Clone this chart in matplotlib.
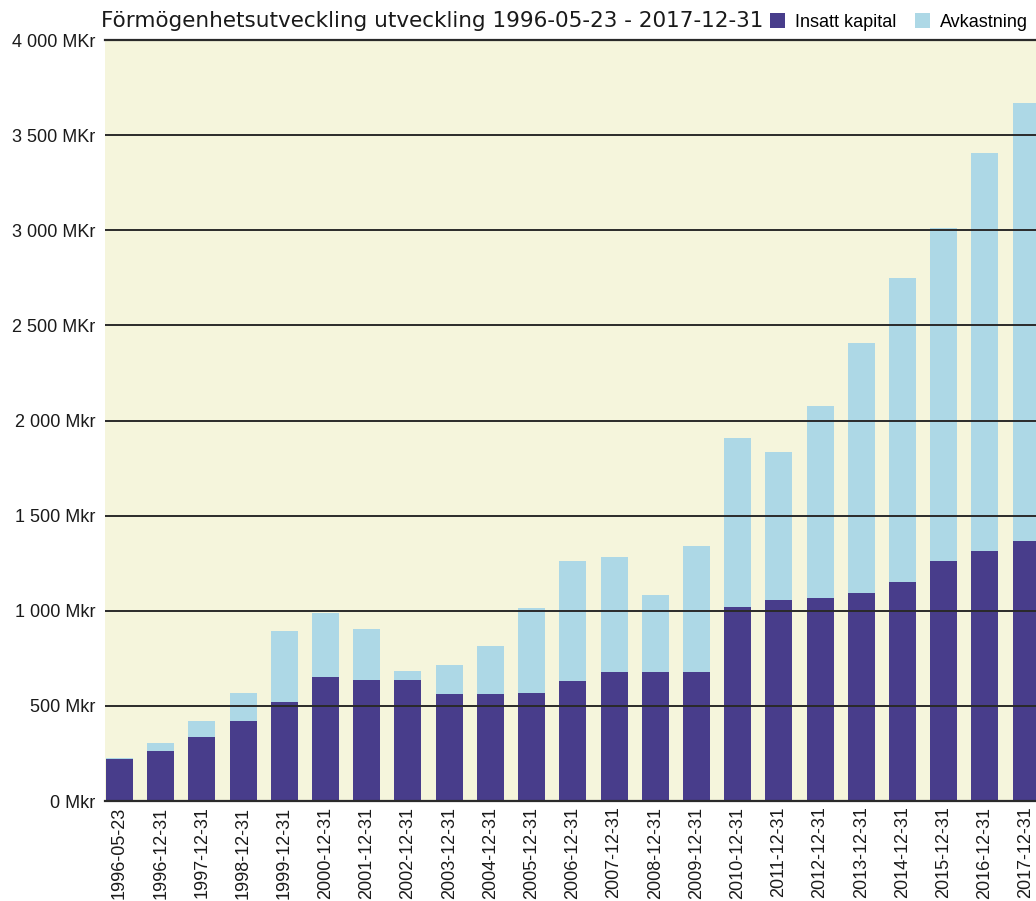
import matplotlib
matplotlib.use("Agg")
import matplotlib.pyplot as plt
from matplotlib.patches import Patch

dates = ["1996-05-23", "1996-12-31", "1997-12-31", "1998-12-31", "1999-12-31",
         "2000-12-31", "2001-12-31", "2002-12-31", "2003-12-31", "2004-12-31",
         "2005-12-31", "2006-12-31", "2007-12-31", "2008-12-31", "2009-12-31",
         "2010-12-31", "2011-12-31", "2012-12-31", "2013-12-31", "2014-12-31",
         "2015-12-31", "2016-12-31", "2017-12-31"]
insatt = [220, 263, 336, 420, 520, 652, 636, 636, 562, 562, 568, 631, 678, 678, 678,
          1020, 1057, 1067, 1093, 1151, 1261, 1314, 1367]
totalt = [226, 305, 420, 568, 894, 988, 904, 683, 715, 815, 1014, 1262, 1283, 1083, 1340,
          1908, 1834, 2076, 2407, 2749, 3012, 3406, 3669]
avkastning = [t - i for t, i in zip(totalt, insatt)]

yticks = [0, 500, 1000, 1500, 2000, 2500, 3000, 3500, 4000]
ylabels = ["0 Mkr", "500 Mkr", "1 000 Mkr", "1 500 Mkr", "2 000 Mkr",
           "2 500 MKr", "3 000 MKr", "3 500 MKr", "4 000 MKr"]
title = "Förmögenhetsutveckling utveckling 1996-05-23 - 2017-12-31"

c_ins = "#483D8B"
c_avk = "#ADD8E6"
bg = "#F5F5DC"
txt = "#1a1a1a"

W, H = 1036, 901
fig = plt.figure(figsize=(W / 100, H / 100), dpi=100)
ax = fig.add_axes([105 / W, (H - 801) / H, (W - 105) / W, (801 - 40) / H])
ax.set_facecolor(bg)

x = list(range(len(dates)))
ax.bar(x, insatt, width=0.655, color=c_ins, zorder=1)
ax.bar(x, avkastning, bottom=insatt, width=0.655, color=c_avk, zorder=1)

ax.set_xlim(-0.352, 22.24)
ax.set_ylim(0, 4000)
ax.set_yticks(yticks)
ax.set_yticklabels(ylabels, family="Liberation Sans", fontsize=13, color=txt)
ax.set_xticks(x)
ax.set_xticklabels(dates, rotation=90, family="Liberation Sans", fontsize=13, color=txt)
ax.tick_params(axis="both", length=0)
ax.tick_params(axis="y", pad=7)
ax.tick_params(axis="x", pad=4)

ax.set_axisbelow(False)
ax.yaxis.grid(True, color="#2a2a2a", linewidth=1.4)
ax.xaxis.grid(False)
for s in ["left", "right"]:
    ax.spines[s].set_visible(False)
for s in ["top", "bottom"]:
    ax.spines[s].set_color("#2a2a2a")
    ax.spines[s].set_linewidth(1.6)

fig.text(101 / W, 1 - 21 / H, title, family="DejaVu Sans", fontsize=15.5, color=txt,
         ha="left", va="center")

handles = [Patch(facecolor=c_ins, label="Insatt kapital"),
           Patch(facecolor=c_avk, label="Avkastning")]
fig.legend(handles=handles, loc="center right", bbox_to_anchor=(1028 / W, 1 - 22 / H),
           ncol=2, frameon=False, prop={"family": "Liberation Sans", "size": 13},
           handlelength=0.85, handleheight=0.85, handletextpad=0.55, columnspacing=1.0,
           borderaxespad=0, borderpad=0)

fig.savefig("out.png", dpi=100)
